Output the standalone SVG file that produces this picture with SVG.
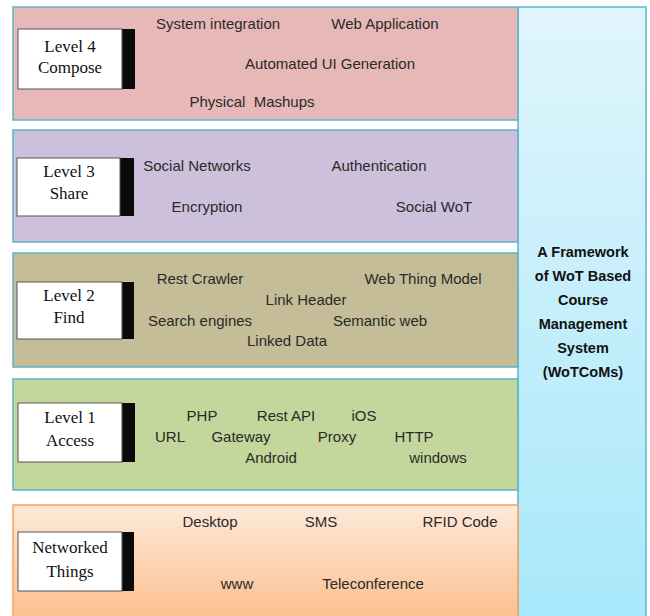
<svg xmlns="http://www.w3.org/2000/svg" width="650" height="616" viewBox="0 0 650 616">
<defs>
<linearGradient id="gOrange" x1="0" y1="0" x2="0" y2="1">
<stop offset="0" stop-color="#fde9d9"/>
<stop offset="1" stop-color="#fbbf8e"/>
</linearGradient>
<linearGradient id="gBlue" x1="0" y1="0" x2="0" y2="1">
<stop offset="0" stop-color="#e0f5fb"/>
<stop offset="1" stop-color="#a8e8fb"/>
</linearGradient>
</defs>
<style>
.band{stroke:#5eb3c9;stroke-width:1.5}
.lbl{fill:#ffffff;stroke:#555;stroke-width:1}
.shd{fill:#0a0a0a}
.lt{font-family:"Liberation Serif","Times New Roman",serif;font-size:17px;fill:#111;text-anchor:middle}
.t{font-family:"Liberation Sans",Arial,sans-serif;font-size:15px;fill:#2a2a2a;text-anchor:middle;white-space:pre}
.ft{font-family:"Liberation Sans",Arial,sans-serif;font-size:14.5px;font-weight:bold;fill:#111;text-anchor:middle}
</style>
<rect width="650" height="616" fill="#ffffff"/>

<g id="framework">
<rect x="518" y="7" width="128" height="612" fill="url(#gBlue)" stroke="#5eb3c9" stroke-width="1.5"/>
<text class="ft" x="583" y="257">A Framework</text>
<text class="ft" x="583" y="281">of WoT Based</text>
<text class="ft" x="583" y="305">Course</text>
<text class="ft" x="583" y="329">Management</text>
<text class="ft" x="583" y="353">System</text>
<text class="ft" x="583" y="377">(WoTCoMs)</text>
</g>

<g id="level4">
<rect class="band" x="13" y="7" width="505" height="113" fill="#e6b8b7"/>
<rect class="shd" x="120" y="29" width="15" height="60"/>
<rect class="lbl" x="18" y="29" width="104" height="60"/>
<text class="lt" x="70" y="52">Level 4</text>
<text class="lt" x="70" y="73">Compose</text>
<text class="t" x="218" y="29">System integration</text>
<text class="t" x="385" y="29">Web Application</text>
<text class="t" x="330" y="69">Automated UI Generation</text>
<text class="t" x="252" y="107">Physical  Mashups</text>
</g>

<g id="level3">
<rect class="band" x="13" y="130" width="505" height="112" fill="#ccc0da"/>
<rect class="shd" x="119" y="158" width="15" height="58"/>
<rect class="lbl" x="17" y="158" width="103" height="58"/>
<text class="lt" x="69" y="177">Level 3</text>
<text class="lt" x="69" y="199">Share</text>
<text class="t" x="197" y="171">Social Networks</text>
<text class="t" x="379" y="171">Authentication</text>
<text class="t" x="207" y="212">Encryption</text>
<text class="t" x="434" y="212">Social WoT</text>
</g>

<g id="level2">
<rect class="band" x="13" y="253" width="505" height="114" fill="#c4bd97"/>
<rect class="shd" x="120" y="282" width="14" height="57"/>
<rect class="lbl" x="17" y="282" width="105" height="57"/>
<text class="lt" x="69" y="301">Level 2</text>
<text class="lt" x="69" y="323">Find</text>
<text class="t" x="200" y="284">Rest Crawler</text>
<text class="t" x="423" y="284">Web Thing Model</text>
<text class="t" x="306" y="305">Link Header</text>
<text class="t" x="200" y="326">Search engines</text>
<text class="t" x="380" y="326">Semantic web</text>
<text class="t" x="287" y="346">Linked Data</text>
</g>

<g id="level1">
<rect class="band" x="13" y="379" width="505" height="111" fill="#c3d69b"/>
<rect class="shd" x="120" y="403" width="15" height="59"/>
<rect class="lbl" x="18" y="403" width="104" height="59"/>
<text class="lt" x="70" y="423">Level 1</text>
<text class="lt" x="70" y="446">Access</text>
<text class="t" x="202" y="421">PHP</text>
<text class="t" x="286" y="421">Rest API</text>
<text class="t" x="364" y="421">iOS</text>
<text class="t" x="170" y="442">URL</text>
<text class="t" x="241" y="442">Gateway</text>
<text class="t" x="337" y="442">Proxy</text>
<text class="t" x="414" y="442">HTTP</text>
<text class="t" x="271" y="463">Android</text>
<text class="t" x="438" y="463">windows</text>
</g>

<g id="networked">
<rect x="13" y="505" width="505" height="114" fill="url(#gOrange)" stroke="#f8a15c" stroke-width="1.5"/>
<rect class="shd" x="120" y="532" width="14" height="59"/>
<rect class="lbl" x="18" y="532" width="104" height="59"/>
<text class="lt" x="70" y="553">Networked</text>
<text class="lt" x="70" y="577">Things</text>
<text class="t" x="210" y="527">Desktop</text>
<text class="t" x="321" y="527">SMS</text>
<text class="t" x="460" y="527">RFID Code</text>
<text class="t" x="237" y="589">www</text>
<text class="t" x="373" y="589">Teleconference</text>
</g>

<g id="connectors"></g>
</svg>
